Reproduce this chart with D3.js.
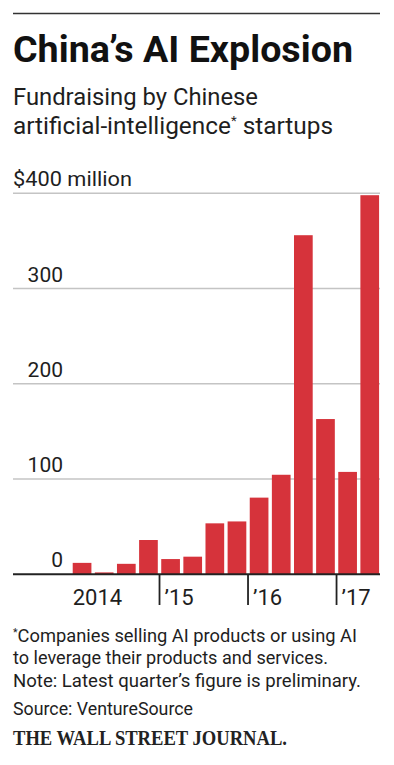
<!DOCTYPE html>
<html>
<head>
<meta charset="utf-8">
<script src="https://cdn.jsdelivr.net/npm/d3@7"></script>
<style>
  html, body { margin: 0; padding: 0; background: #fff; }
  svg { display: block; }
</style>
</head>
<body>
<div id="chart"></div>
<script>
// ---- Data ----
const quarters = ["Q1 2014","Q2 2014","Q3 2014","Q4 2014",
                  "Q1 2015","Q2 2015","Q3 2015","Q4 2015",
                  "Q1 2016","Q2 2016","Q3 2016","Q4 2016",
                  "Q1 2017","Q2 2017"];
const values = [12, 2, 11, 36, 16, 18.5, 53.5, 55.5, 80.5, 104.5, 356, 163, 107.5, 398];
const yTicks = [0, 100, 200, 300, 400];
const yTickLabels = ["0", "100", "200", "300", "$400 million"];
const yearLabels = ["2014", "\u201915", "\u201916", "\u201917"];
const yearStartQuarters = ["Q1 2014", "Q1 2015", "Q1 2016", "Q1 2017"];

const W = 394, H = 765;
const svg = d3.select("#chart").append("svg").attr("width", W).attr("height", H);

const sans = "Roboto, 'Open Sans', sans-serif";
const textCol = "#1e1e1e";

// top rule
svg.append("line").attr("x1", 13).attr("x2", 380).attr("y1", 13.5).attr("y2", 13.5)
  .attr("stroke", "#333").attr("stroke-width", 1.6);

// title
svg.append("text").attr("x", 13).attr("y", 62)
  .attr("font-family", sans).attr("font-weight", 700).attr("font-size", 36)
  .attr("fill", "#111").attr("textLength", 340).attr("lengthAdjust", "spacingAndGlyphs")
  .text("China\u2019s AI Explosion");

// subtitle
svg.append("text").attr("x", 13).attr("y", 105)
  .attr("font-family", sans).attr("font-size", 24).attr("fill", textCol)
  .attr("textLength", 245).attr("lengthAdjust", "spacingAndGlyphs")
  .text("Fundraising by Chinese");
const sub2 = svg.append("text").attr("x", 13).attr("y", 133.5)
  .attr("font-family", sans).attr("font-size", 24).attr("fill", textCol)
  .attr("textLength", 320).attr("lengthAdjust", "spacingAndGlyphs");
sub2.append("tspan").text("artificial-intelligence");
sub2.append("tspan").attr("font-size", 13).attr("dy", -9).text("*");
sub2.append("tspan").attr("dy", 9).text(" startups");

// scales
const x = d3.scaleBand().domain(quarters).range([71, 380.8])
  .paddingInner(0.155).paddingOuter(0.0775);
const y = d3.scaleLinear().domain([0, 400]).range([574.3, 193.3]);

// gridlines
svg.append("g").selectAll("line").data(yTicks.filter(d => d > 0)).join("line")
  .attr("x1", 13).attr("x2", 380)
  .attr("y1", d => y(d)).attr("y2", d => y(d))
  .attr("stroke", "#c4c4c4").attr("stroke-width", 1.5);

// y labels
svg.append("g").selectAll("text").data(yTicks).join("text")
  .attr("x", (d, i) => d === 400 ? 13 : 63)
  .attr("y", d => y(d) - 7)
  .attr("text-anchor", d => d === 400 ? "start" : "end")
  .attr("font-family", sans).attr("font-size", 21).attr("fill", textCol)
  .each(function(d, i) {
    const t = d3.select(this).text(yTickLabels[i]);
    if (d === 400) t.attr("textLength", 119).attr("lengthAdjust", "spacingAndGlyphs");
  });

// bars
svg.append("g").selectAll("rect").data(values).join("rect")
  .attr("x", (d, i) => x(quarters[i]))
  .attr("width", x.bandwidth())
  .attr("y", d => y(d))
  .attr("height", d => y(0) - y(d))
  .attr("fill", "#d6333b");

// baseline
svg.append("line").attr("x1", 13).attr("x2", 380).attr("y1", y(0)).attr("y2", y(0))
  .attr("stroke", "#222").attr("stroke-width", 2);

// year ticks and labels
const gap = x.step() * x.paddingInner();
yearStartQuarters.forEach((q, i) => {
  const bx = x(q) - gap / 2;
  if (i > 0) {
    svg.append("line").attr("x1", bx).attr("x2", bx)
      .attr("y1", y(0)).attr("y2", 605)
      .attr("stroke", "#222").attr("stroke-width", 1.8);
  }
  svg.append("text")
    .attr("x", i === 0 ? x(q) : bx + 5)
    .attr("y", 605)
    .attr("font-family", sans).attr("font-size", 22).attr("fill", textCol)
    .text(yearLabels[i]);
});

// footnotes
const fn1 = svg.append("text").attr("x", 13).attr("y", 641.5)
  .attr("font-family", sans).attr("font-size", 19).attr("fill", textCol)
  .attr("textLength", 344).attr("lengthAdjust", "spacingAndGlyphs");
fn1.append("tspan").attr("font-size", 11).attr("dy", -6).text("*");
fn1.append("tspan").attr("dy", 6).text("Companies selling AI products or using AI");

const notes = [
  {t: "to leverage their products and services.", y: 664, w: 315},
  {t: "Note: Latest quarter\u2019s figure is preliminary.", y: 687, w: 348},
  {t: "Source: VentureSource", y: 715, w: 180}
];
notes.forEach(n => {
  svg.append("text").attr("x", 13).attr("y", n.y)
    .attr("font-family", sans).attr("font-size", 19).attr("fill", textCol)
    .attr("textLength", n.w).attr("lengthAdjust", "spacingAndGlyphs")
    .text(n.t);
});

svg.append("text").attr("x", 13).attr("y", 745)
  .attr("font-family", "'Liberation Serif', 'DejaVu Serif', serif")
  .attr("font-weight", 700).attr("font-size", 21).attr("fill", "#222")
  .attr("textLength", 274).attr("lengthAdjust", "spacingAndGlyphs")
  .text("THE WALL STREET JOURNAL.");
</script>
</body>
</html>
